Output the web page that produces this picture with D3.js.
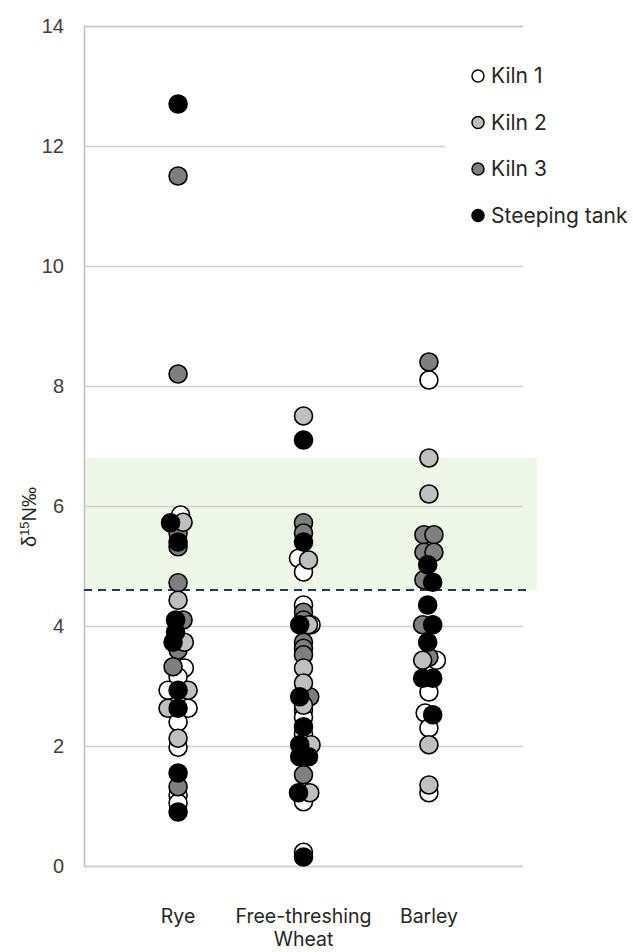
<!DOCTYPE html>
<html>
<head>
<meta charset="utf-8">
<script src="https://cdn.jsdelivr.net/npm/d3@7"></script>
<style>
  html, body { margin: 0; padding: 0; background: #fff; }
  svg { display: block; }
</style>
</head>
<body>
<svg id="chart" width="633" height="952"></svg>
<script>
// Crop categories along the x axis
const categories = ["Rye", "Free-threshing\nWheat", "Barley"];

// Series: [category index, horizontal jitter (category units), δ15N value]
const kiln1 = [
  [0, 0.02, 5.85], [0, 0.05, 3.3], [0, 0, 3.15], [0, -0.08, 2.93], [0, 0.08, 2.63],
  [0, 0, 2.4], [0, 0, 1.98], [0, 0, 1.18], [0, 0, 1.05],
  [1, -0.04, 5.13], [1, 0, 4.9], [1, 0, 4.35], [1, 0.06, 4.02], [1, 0, 2.6],
  [1, 0, 2.48], [1, 0, 2.2], [1, 0, 1.07], [1, 0, 0.23],
  [2, 0, 8.1], [2, 0.06, 3.43], [2, 0, 2.9], [2, -0.03, 2.55], [2, 0, 2.3], [2, 0, 1.22]
];
const kiln2 = [
  [0, 0.04, 5.73], [0, 0, 4.43], [0, 0.05, 3.73], [0, 0.08, 2.93], [0, -0.08, 2.63], [0, 0, 2.13],
  [1, 0, 7.5], [1, 0.04, 5.1], [1, 0.04, 4.02], [1, 0, 3.3], [1, 0, 3.05], [1, 0, 2.68],
  [1, 0.06, 2.02], [1, 0.05, 1.22],
  [2, 0, 6.8], [2, 0, 6.2], [2, -0.05, 3.43], [2, 0, 2.02], [2, 0, 1.35]
];
const kiln3 = [
  [0, 0, 11.5], [0, 0, 8.2], [0, 0, 5.55], [0, 0, 5.32], [0, 0, 4.72], [0, 0.04, 4.1],
  [0, 0, 3.6], [0, -0.04, 3.32], [0, 0, 1.32],
  [1, 0, 5.72], [1, 0, 5.55], [1, 0, 4.23], [1, 0, 4.1], [1, 0, 3.73], [1, 0, 3.63],
  [1, 0, 3.52], [1, 0.05, 2.82], [1, 0, 1.52],
  [2, 0, 8.4], [2, -0.04, 5.52], [2, 0.04, 5.52], [2, -0.04, 5.23], [2, 0.04, 5.23],
  [2, -0.04, 4.77], [2, -0.05, 4.02], [2, 0, 3.48]
];
const steepingTank = [
  [0, 0, 12.7], [0, -0.06, 5.72], [0, 0, 5.4], [0, -0.02, 4.1], [0, -0.02, 3.9],
  [0, -0.04, 3.73], [0, 0, 2.93], [0, 0, 2.63], [0, 0, 1.55], [0, 0, 0.9],
  [1, 0, 7.1], [1, 0, 5.4], [1, -0.03, 4.02], [1, -0.03, 2.82], [1, 0, 2.32],
  [1, -0.03, 2.02], [1, -0.03, 1.82], [1, 0.04, 1.82], [1, -0.04, 1.22], [1, 0, 0.15],
  [2, -0.01, 5.02], [2, 0.03, 4.73], [2, -0.01, 4.35], [2, 0.03, 4.02], [2, -0.01, 3.73],
  [2, -0.05, 3.13], [2, 0.03, 3.13], [2, 0.03, 2.52]
];

// Y axis ticks
const yTicks = [0, 2, 4, 6, 8, 10, 12, 14];

// Shaded reference range and threshold line (δ15N values)
const bandRange = [4.6, 6.8];
const thresholdValue = 4.6;

// Legend entries
const seriesNames = ["Kiln 1", "Kiln 2", "Kiln 3", "Steeping tank"];
const seriesColors = ["#ffffff", "#bfbfbf", "#7f7f7f", "#000000"];

const svg = d3.select("#chart");
const plot = { left: 84, right: 523, top: 26, bottom: 866 };

const x = d3.scaleLinear().domain([-0.75, 2.75]).range([plot.left, plot.right]);
const y = d3.scaleLinear().domain([0, 14]).range([plot.bottom, plot.top]);

// Shaded band
svg.append("rect")
  .attr("x", plot.left)
  .attr("y", y(bandRange[1]))
  .attr("width", 537 - plot.left)
  .attr("height", y(bandRange[0]) - y(bandRange[1]))
  .attr("fill", "#edf6e7");

// Horizontal gridlines (no line at the top tick)
const yAxis = d3.axisLeft(y).tickValues(yTicks).tickSize(-(plot.right - plot.left)).tickPadding(20)
  .tickFormat(d3.format("d"));
const gAxis = svg.append("g").attr("transform", `translate(${plot.left},0)`).call(yAxis);
gAxis.select(".domain").attr("stroke", "#bfbfbf").attr("stroke-width", 1.5);
gAxis.selectAll(".tick line")
  .attr("stroke", "#d0d0d0").attr("stroke-width", 1.5)
  .attr("display", d => d === 14 ? "none" : null);
gAxis.selectAll(".tick text")
  .attr("fill", "#404040")
  .style("font-family", "'Liberation Sans', Arial, sans-serif")
  .style("font-size", "20px");

// Threshold dashed line
svg.append("line")
  .attr("x1", plot.left).attr("x2", 530)
  .attr("y1", y(thresholdValue)).attr("y2", y(thresholdValue))
  .attr("stroke", "#1f3b5c").attr("stroke-width", 2)
  .attr("stroke-dasharray", "8,6");

// Legend background covering the gridline behind it
svg.append("rect").attr("x", 445).attr("y", 52).attr("width", 188).attr("height", 190).attr("fill", "#fff");

// Points: drawn Kiln 1, Kiln 3, Kiln 2, then Steeping tank on top
const drawOrder = [[kiln1, 0], [kiln3, 2], [kiln2, 1], [steepingTank, 3]];
drawOrder.forEach(([data, si]) => {
  svg.append("g").selectAll("circle").data(data).join("circle")
    .attr("cx", d => x(d[0] + d[1]))
    .attr("cy", d => y(d[2]))
    .attr("r", 9)
    .attr("fill", seriesColors[si])
    .attr("stroke", "#000")
    .attr("stroke-width", 1.6);
});

// Category labels
const catG = svg.append("g")
  .style("font-family", "Inter, 'Noto Sans', sans-serif")
  .style("font-size", "19.5px")
  .attr("fill", "#262626");
categories.forEach((c, i) => {
  const lines = c.split("\n");
  const t = catG.append("text").attr("x", x(i)).attr("y", 923).attr("text-anchor", "middle");
  lines.forEach((ln, j) => {
    t.append("tspan").attr("x", x(i)).attr("dy", j === 0 ? 0 : 23).text(ln);
  });
});

// Y axis title
svg.append("text")
  .attr("transform", `translate(36,517) rotate(-90)`)
  .attr("text-anchor", "middle")
  .style("font-family", "'Liberation Sans', Arial, sans-serif")
  .style("font-size", "20px")
  .attr("fill", "#262626")
  .html("δ<tspan dy='-7' font-size='13'>15</tspan><tspan dy='7'>N‰</tspan>");

// Legend
const legend = svg.append("g")
  .style("font-family", "Inter, 'Noto Sans', sans-serif")
  .style("font-size", "21px")
  .attr("fill", "#262626");
seriesNames.forEach((name, i) => {
  const ly = 76 + i * 46.5;
  legend.append("circle").attr("cx", 478).attr("cy", ly).attr("r", 6)
    .attr("fill", seriesColors[i]).attr("stroke", "#000").attr("stroke-width", 1.5);
  legend.append("text").attr("x", 491).attr("y", ly).attr("dy", "0.35em").text(name);
});
</script>
</body>
</html>
